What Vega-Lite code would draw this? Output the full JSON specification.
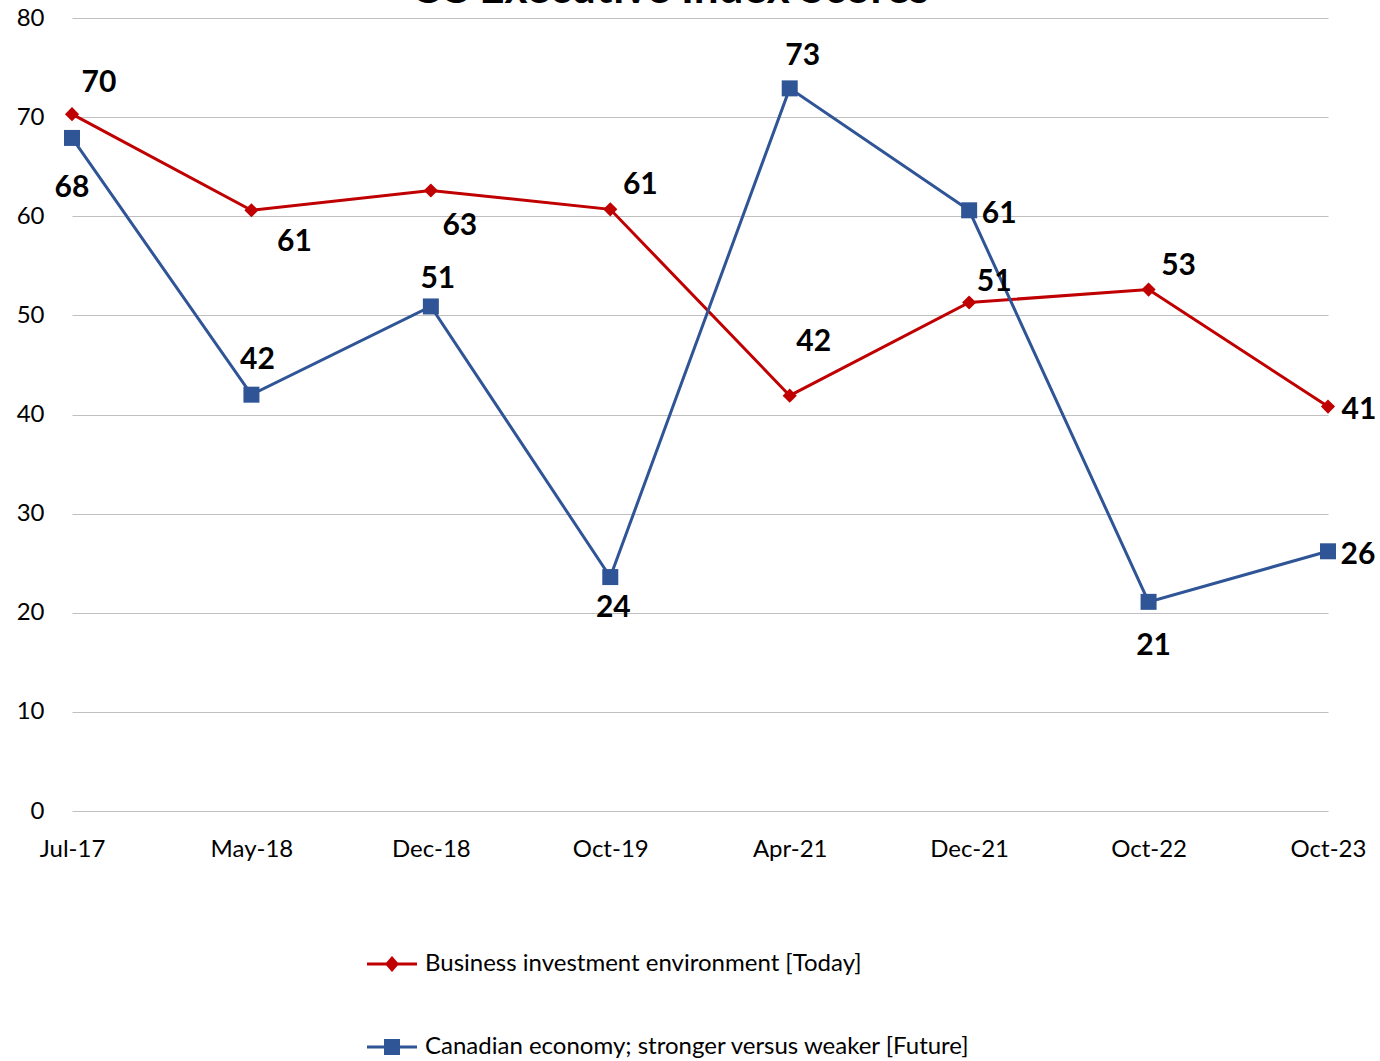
{
  "$schema": "https://vega.github.io/schema/vega-lite/v6.json",
  "width": 1256,
  "height": 793,
  "autosize": "none",
  "padding": {"left": 72, "top": 18, "right": 52, "bottom": 250},
  "background": "white",
  "title": {"text": "CC Executive Index Scores", "fontSize": 44, "font": "Lato", "fontWeight": "bold", "color": "black", "offset": -6, "dx": -30, "anchor": "middle"},
  "config": {
    "font": "Lato",
    "view": {"stroke": null},
    "axis": {"labelFont": "Lato", "labelFontSize": 24, "labelColor": "black"},
    "text": {"fontSize": 30, "fontWeight": "bold", "font": "Lato", "color": "black"}
  },
  "data": {"values": [
    {"date": "Jul-17", "series": "Business investment environment [Today]", "value": 70.3},
    {"date": "May-18", "series": "Business investment environment [Today]", "value": 60.6},
    {"date": "Dec-18", "series": "Business investment environment [Today]", "value": 62.6},
    {"date": "Oct-19", "series": "Business investment environment [Today]", "value": 60.7},
    {"date": "Apr-21", "series": "Business investment environment [Today]", "value": 41.9},
    {"date": "Dec-21", "series": "Business investment environment [Today]", "value": 51.3},
    {"date": "Oct-22", "series": "Business investment environment [Today]", "value": 52.6},
    {"date": "Oct-23", "series": "Business investment environment [Today]", "value": 40.8},
    {"date": "Jul-17", "series": "Canadian economy; stronger versus weaker [Future]", "value": 67.9},
    {"date": "May-18", "series": "Canadian economy; stronger versus weaker [Future]", "value": 42.0},
    {"date": "Dec-18", "series": "Canadian economy; stronger versus weaker [Future]", "value": 50.9},
    {"date": "Oct-19", "series": "Canadian economy; stronger versus weaker [Future]", "value": 23.6},
    {"date": "Apr-21", "series": "Canadian economy; stronger versus weaker [Future]", "value": 72.9},
    {"date": "Dec-21", "series": "Canadian economy; stronger versus weaker [Future]", "value": 60.6},
    {"date": "Oct-22", "series": "Canadian economy; stronger versus weaker [Future]", "value": 21.1},
    {"date": "Oct-23", "series": "Canadian economy; stronger versus weaker [Future]", "value": 26.2}
  ]},
  "encoding": {
    "x": {"field": "date", "type": "ordinal", "sort": ["Jul-17", "May-18", "Dec-18", "Oct-19", "Apr-21", "Dec-21", "Oct-22", "Oct-23"],
      "scale": {"type": "point", "padding": 0},
      "axis": {"title": null, "labelAngle": 0, "ticks": false, "domain": false, "labelPadding": 26, "grid": false}},
    "y": {"field": "value", "type": "quantitative", "scale": {"domain": [0, 80], "nice": false},
      "axis": {"title": null, "values": [0, 10, 20, 30, 40, 50, 60, 70, 80], "ticks": false, "domain": false, "labelPadding": 28, "grid": true, "gridColor": "#c0c0c0", "gridWidth": 1.2}}
  },
  "layer": [
    {
      "mark": {"type": "line", "strokeWidth": 3},
      "encoding": {
        "color": {"field": "series", "type": "nominal",
          "scale": {"domain": ["Business investment environment [Today]", "Canadian economy; stronger versus weaker [Future]"], "range": ["#C00000", "#2F5597"]},
          "legend": {"title": null, "orient": "none", "legendX": 308, "legendY": 934, "direction": "vertical",
            "labelFontSize": 24, "labelFont": "Lato", "labelColor": "black", "labelOffset": 21, "rowPadding": 59,
            "symbolSize": 400, "labelLimit": 800,
            "encode": {"symbols": {"update": {
              "shape": {"signal": "datum.value == 'Business investment environment [Today]' ? 'M-2.5,-0.15L2.5,-0.15L2.5,0.15L-2.5,0.15Z M0,-0.8L0.7,0L0,0.8L-0.7,0Z' : 'M-2.5,-0.15L2.5,-0.15L2.5,0.15L-2.5,0.15Z M-0.8,-0.8L0.8,-0.8L0.8,0.8L-0.8,0.8Z'"},
              "fill": {"signal": "datum.value == 'Business investment environment [Today]' ? '#C00000' : '#2F5597'"},
              "fillOpacity": {"value": 1},
              "strokeWidth": {"value": 0},
              "size": {"value": 400}
            }}}}
        }
      }
    },
    {
      "transform": [{"filter": {"field": "series", "equal": "Business investment environment [Today]"}}],
      "mark": {"type": "point", "filled": true, "opacity": 1, "shape": "diamond", "size": 200, "color": "#C00000"}
    },
    {
      "transform": [{"filter": {"field": "series", "equal": "Canadian economy; stronger versus weaker [Future]"}}],
      "mark": {"type": "point", "filled": true, "opacity": 1, "shape": "square", "size": 256, "color": "#2F5597"}
    },
    {"transform": [{"filter": {"field": "series", "equal": "Business investment environment [Today]"}}, {"filter": {"field": "date", "equal": "Jul-17"}}],
      "mark": {"type": "text", "dx": 27, "dy": -31}, "encoding": {"text": {"field": "value", "type": "quantitative", "format": ".0f"}}},
    {"transform": [{"filter": {"field": "series", "equal": "Business investment environment [Today]"}}, {"filter": {"field": "date", "equal": "May-18"}}],
      "mark": {"type": "text", "dx": 43, "dy": 32}, "encoding": {"text": {"field": "value", "type": "quantitative", "format": ".0f"}}},
    {"transform": [{"filter": {"field": "series", "equal": "Business investment environment [Today]"}}, {"filter": {"field": "date", "equal": "Dec-18"}}],
      "mark": {"type": "text", "dx": 29, "dy": 36}, "encoding": {"text": {"field": "value", "type": "quantitative", "format": ".0f"}}},
    {"transform": [{"filter": {"field": "series", "equal": "Business investment environment [Today]"}}, {"filter": {"field": "date", "oneOf": ["Oct-19", "Oct-22"]}}],
      "mark": {"type": "text", "dx": 30, "dy": -24}, "encoding": {"text": {"field": "value", "type": "quantitative", "format": ".0f"}}},
    {"transform": [{"filter": {"field": "series", "equal": "Business investment environment [Today]"}}, {"filter": {"field": "date", "equal": "Apr-21"}}],
      "mark": {"type": "text", "dx": 24, "dy": -54}, "encoding": {"text": {"field": "value", "type": "quantitative", "format": ".0f"}}},
    {"transform": [{"filter": {"field": "series", "equal": "Business investment environment [Today]"}}, {"filter": {"field": "date", "equal": "Dec-21"}}],
      "mark": {"type": "text", "dx": 25, "dy": -20}, "encoding": {"text": {"field": "value", "type": "quantitative", "format": ".0f"}}},
    {"transform": [{"filter": {"field": "series", "equal": "Business investment environment [Today]"}}, {"filter": {"field": "date", "equal": "Oct-23"}}],
      "mark": {"type": "text", "dx": 31, "dy": 3}, "encoding": {"text": {"field": "value", "type": "quantitative", "format": ".0f"}}},
    {"transform": [{"filter": {"field": "series", "equal": "Canadian economy; stronger versus weaker [Future]"}}, {"filter": {"field": "date", "equal": "Jul-17"}}],
      "mark": {"type": "text", "dx": 0, "dy": 50}, "encoding": {"text": {"field": "value", "type": "quantitative", "format": ".0f"}}},
    {"transform": [{"filter": {"field": "series", "equal": "Canadian economy; stronger versus weaker [Future]"}}, {"filter": {"field": "date", "equal": "May-18"}}],
      "mark": {"type": "text", "dx": 6, "dy": -35}, "encoding": {"text": {"field": "value", "type": "quantitative", "format": ".0f"}}},
    {"transform": [{"filter": {"field": "series", "equal": "Canadian economy; stronger versus weaker [Future]"}}, {"filter": {"field": "date", "equal": "Dec-18"}}],
      "mark": {"type": "text", "dx": 7, "dy": -27}, "encoding": {"text": {"field": "value", "type": "quantitative", "format": ".0f"}}},
    {"transform": [{"filter": {"field": "series", "equal": "Canadian economy; stronger versus weaker [Future]"}}, {"filter": {"field": "date", "equal": "Oct-19"}}],
      "mark": {"type": "text", "dx": 3, "dy": 31}, "encoding": {"text": {"field": "value", "type": "quantitative", "format": ".0f"}}},
    {"transform": [{"filter": {"field": "series", "equal": "Canadian economy; stronger versus weaker [Future]"}}, {"filter": {"field": "date", "equal": "Apr-21"}}],
      "mark": {"type": "text", "dx": 13, "dy": -32}, "encoding": {"text": {"field": "value", "type": "quantitative", "format": ".0f"}}},
    {"transform": [{"filter": {"field": "series", "equal": "Canadian economy; stronger versus weaker [Future]"}}, {"filter": {"field": "date", "oneOf": ["Dec-21", "Oct-23"]}}],
      "mark": {"type": "text", "dx": 30, "dy": 4}, "encoding": {"text": {"field": "value", "type": "quantitative", "format": ".0f"}}},
    {"transform": [{"filter": {"field": "series", "equal": "Canadian economy; stronger versus weaker [Future]"}}, {"filter": {"field": "date", "equal": "Oct-22"}}],
      "mark": {"type": "text", "dx": 5, "dy": 44}, "encoding": {"text": {"field": "value", "type": "quantitative", "format": ".0f"}}}
  ]
}
